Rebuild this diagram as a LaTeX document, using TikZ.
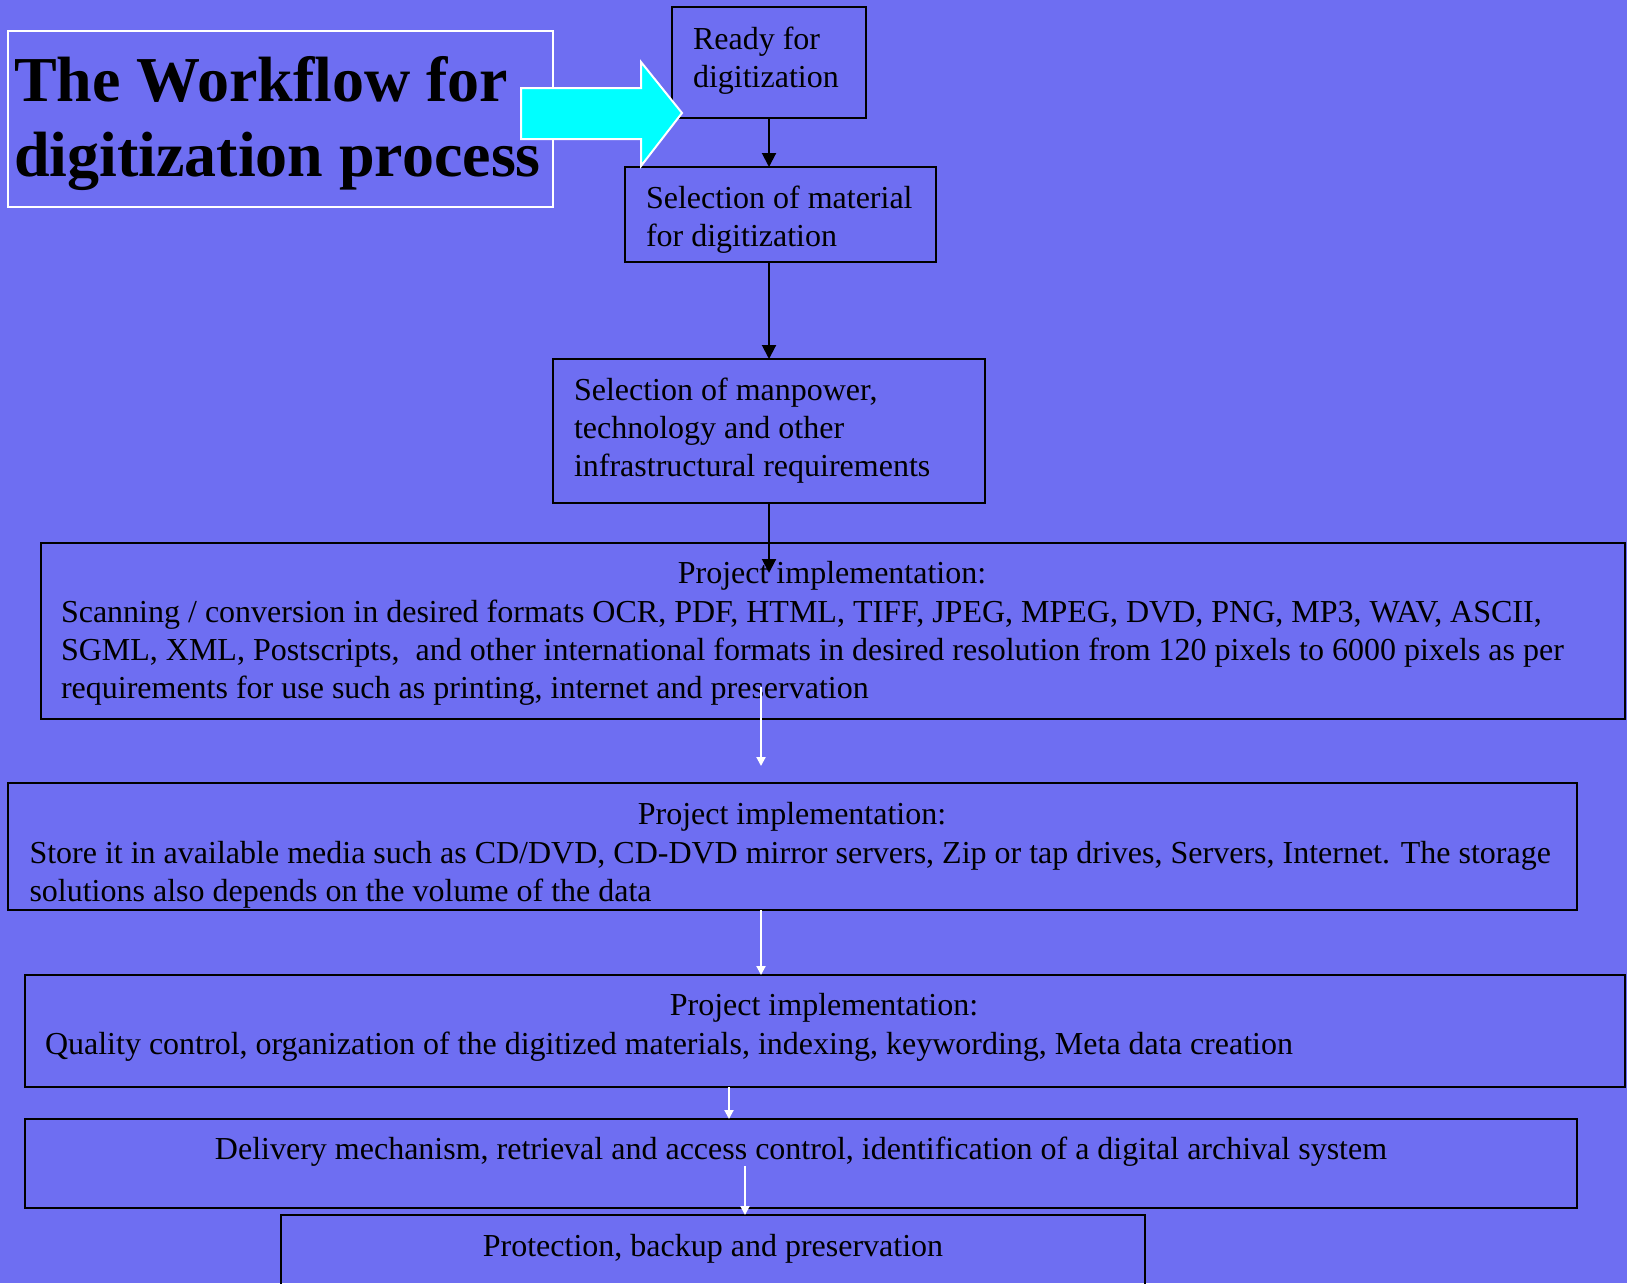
\documentclass[tikz,border=0pt]{standalone}
\usepackage{fontspec}
\setmainfont{Liberation Serif}
\usetikzlibrary{arrows.meta}
\definecolor{bgblue}{RGB}{110,110,242}
\definecolor{arrowcyan}{RGB}{0,255,255}
\begin{document}
\begin{tikzpicture}[x=1pt,y=-1pt,
  box/.style={draw=black, line width=2pt, inner sep=0pt, outer sep=0pt},
  titlebox/.style={draw=white, line width=2pt, inner sep=0pt, outer sep=0pt},
  txt/.style={inner sep=0pt, outer sep=0pt, text=black, font=\fontsize{32}{38.4}\selectfont},
  ttl/.style={inner sep=0pt, outer sep=0pt, text=black, font=\fontsize{64}{75}\selectfont\bfseries},
  blk/.style={draw=black, line width=2pt, -{Triangle[length=14pt,width=14pt]}},
  wht/.style={draw=white, line width=2pt, -{Triangle[length=9pt,width=9pt]}},
  bigarrow/.style={draw=white, line width=2pt, fill=arrowcyan, line join=miter}]
\fill[bgblue] (0,0) rectangle (1627,1283);
\useasboundingbox (0,0) rectangle (1627,1283);

% title
\node[titlebox, minimum width=545pt, minimum height=176pt] (title) at (280.5,119) {};
\node[ttl, anchor=base west] (titletext) at (14,101.7)
  {\begin{tabular}[t]{@{}l@{}}The Workflow for\\ digitization process\end{tabular}};

% boxes
\node[box, minimum width=194pt, minimum height=111pt] (b1) at (769,62.5) {};
\node[box, minimum width=311pt, minimum height=95pt] (b2) at (780.5,214.5) {};
\node[box, minimum width=432pt, minimum height=144pt] (b3) at (769,431) {};
\node[box, minimum width=1584.5pt, minimum height=176pt] (b4) at (832.75,631) {};
\node[box, minimum width=1568.7pt, minimum height=127pt] (b5) at (792.65,846.5) {};
\node[box, minimum width=1600.3pt, minimum height=112pt] (b6) at (824.85,1031) {};
\node[box, minimum width=1552.3pt, minimum height=89pt] (b7) at (800.85,1163.5) {};
\node[box, minimum width=864pt, minimum height=90pt] (b8) at (713,1260) {};

% texts
\node[txt, anchor=base west] (t1) at (693,49)
  {\begin{tabular}[t]{@{}l@{}}Ready for\\ digitization\end{tabular}};
\node[txt, anchor=base west] (t2) at (646,208)
  {\begin{tabular}[t]{@{}l@{}}Selection of material\\ for digitization\end{tabular}};
\node[txt, anchor=base west] (t3) at (574,400)
  {\begin{tabular}[t]{@{}l@{}}Selection of manpower,\\ technology and other\\ infrastructural requirements\end{tabular}};
\node[txt, anchor=base] (t4h) at (832,583) {Project implementation:};
\node[txt, anchor=base west] (t4) at (61,622)
  {\begin{tabular}[t]{@{}l@{}}Scanning / conversion in desired formats OCR, PDF, HTML, TIFF, JPEG, MPEG, DVD, PNG, MP3, WAV, ASCII,\\ SGML, XML, Postscripts,\ \ and other international formats in desired resolution from 120 pixels to 6000 pixels as per\\ requirements for use such as printing, internet and preservation\end{tabular}};
\node[txt, anchor=base] (t5h) at (792,824.5) {Project implementation:};
\node[txt, anchor=base west] (t5) at (29.5,863)
  {\begin{tabular}[t]{@{}l@{}}Store it in available media such as CD/DVD, CD-DVD mirror servers, Zip or tap drives, Servers, Internet. The storage\\ solutions also depends on the volume of the data\end{tabular}};
\node[txt, anchor=base] (t6h) at (824,1015) {Project implementation:};
\node[txt, anchor=base west] (t6) at (45,1054)
  {Quality control, organization of the digitized materials, indexing, keywording, Meta data creation};
\node[txt, anchor=base] (t7) at (801,1159)
  {Delivery mechanism, retrieval and access control, identification of a digital archival system};
\node[txt, anchor=base] (t8) at (713,1256)
  {Protection, backup and preservation};

% black connectors
\draw[blk] (b1.south) -- (b1.south |- b2.north);
\draw[blk] (b3.north |- b2.south) -- (b3.north);
\coordinate (a3e) at (769,573);
\draw[blk] (b3.south) -- (a3e);

% white connectors
\coordinate (w1s) at (761,687);
\coordinate (w1e) at (761,766);
\draw[wht] (w1s) -- (w1e);
\draw[wht] (w1s |- b5.south) -- (w1s |- b6.north);
\coordinate (w3x) at (729,1100);
\draw[wht] (w3x |- b6.south) -- (w3x |- b7.north);
\coordinate (w4s) at (745,1166);
\draw[wht] (w4s) -- (w4s |- b8.north);

% big cyan arrow
\draw[bigarrow] (521,88) -- (641,88) -- (641,62) -- (682,113) -- (641,166) -- (641,139) -- (521,139) -- cycle;
\end{tikzpicture}
\end{document}
